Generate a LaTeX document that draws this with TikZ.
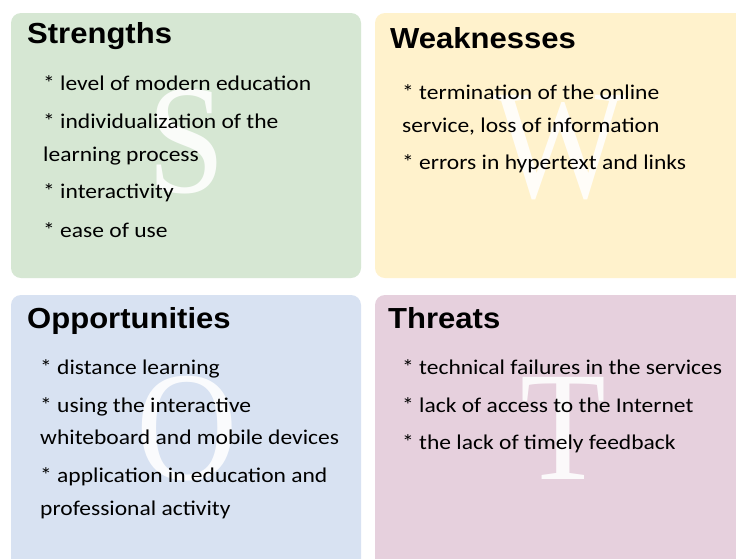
\documentclass[tikz,border=0pt]{standalone}
\usepackage{fontspec}
\setmainfont{Carlito}[FakeStretch=1.12]
\newfontfamily\titlefont{Liberation Sans}[FakeStretch=1.07]
\newfontfamily\bigletterfont{Liberation Serif}[FakeStretch=0.9]
\definecolor{sgreen}{RGB}{214,231,211}
\definecolor{wyellow}{RGB}{255,242,204}
\definecolor{oblue}{RGB}{216,226,242}
\definecolor{tpink}{RGB}{230,208,221}
\tikzset{
  quad/.style={rounded corners=10pt},
  bigletter/.style={inner sep=0pt, text=white, text opacity=0.88, font=\bigletterfont\fontsize{156}{156}\selectfont},
  title/.style={inner sep=0pt, anchor=base west, font=\titlefont\bfseries\fontsize{29}{29}\selectfont},
  body/.style={inner sep=0pt, anchor=base west, font=\fontsize{21}{21}\selectfont},
}
\newcommand\bodyline[4]{\node[body] (#1) at (#2,#3) {#4};}
\begin{document}
\begin{tikzpicture}[x=1pt,y=-1pt]
\useasboundingbox (0,0) rectangle (736,558);
\clip (0,0) rectangle (736,558);
\fill[white] (0,0) rectangle (736,558);
% boxes
\fill[sgreen,quad] (11,13) rectangle (361,278);
\fill[wyellow,quad] (375,13) rectangle (760,278);
\fill[oblue,quad] (11,295) rectangle (361,580);
\fill[tpink,quad] (375,295) rectangle (760,580);
% big letters
\node[bigletter] (S) at (187,142) {S};
\node[bigletter] (W) at (560,148) {W};
\node[bigletter] (O) at (187,429) {O};
\node[bigletter] (T) at (563,428) {T};
% titles
\node[title] (st) at (27,43) {Strengths};
\node[title] (wt) at (390,48) {Weaknesses};
\node[title] (ot) at (27,328) {Opportunities};
\node[title] (tt) at (388,328) {Threats};
% strengths
\bodyline{s1}{43}{90}{* level of modern education}
\bodyline{s2}{43}{128}{* individualization of the}
\bodyline{s3}{43}{161}{learning process}
\bodyline{s4}{43}{198}{* interactivity}
\bodyline{s5}{43}{237}{* ease of use}
% weaknesses
\bodyline{w1}{402}{99}{* termination of the online}
\bodyline{w2}{402}{132}{service, loss of information}
\bodyline{w3}{402}{169}{* errors in hypertext and links}
% opportunities
\bodyline{o1}{40}{374}{* distance learning}
\bodyline{o2}{40}{412}{* using the interactive}
\bodyline{o3}{40}{444}{whiteboard and mobile devices}
\bodyline{o4}{40}{482}{* application in education and}
\bodyline{o5}{40}{515}{professional activity}
% threats
\bodyline{t1}{402}{374}{* technical failures in the services}
\bodyline{t2}{402}{412}{* lack of access to the Internet}
\bodyline{t3}{402}{449}{* the lack of timely feedback}
\end{tikzpicture}
\end{document}
